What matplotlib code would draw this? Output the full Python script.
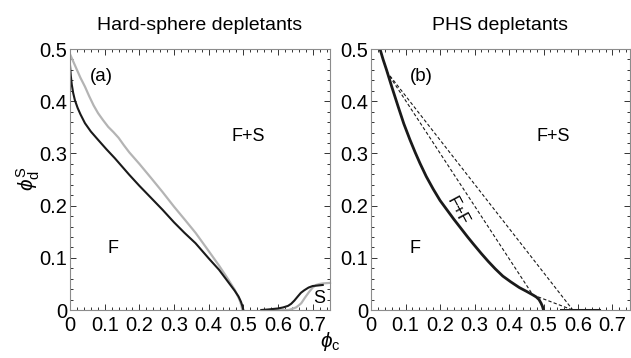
import numpy as np
import matplotlib
matplotlib.use("Agg")
import matplotlib.pyplot as plt
from matplotlib.ticker import MultipleLocator, FuncFormatter

plt.rcParams['font.family'] = ['Liberation Sans', 'DejaVu Sans']
plt.rcParams['mathtext.fontset'] = 'custom'
plt.rcParams['mathtext.rm'] = 'Liberation Sans'
plt.rcParams['mathtext.it'] = 'Liberation Sans:italic'

# (a) hard-sphere depletants
hs_black_x = [0, 0.002, 0.005, 0.009, 0.014, 0.022, 0.03, 0.043, 0.06, 0.081, 0.105,
              0.129, 0.15, 0.171, 0.2, 0.235, 0.267, 0.3, 0.33, 0.362, 0.4, 0.43,
              0.457, 0.475, 0.486, 0.493, 0.497, 0.5]
hs_black_y = [0.468, 0.45, 0.432, 0.416, 0.402, 0.387, 0.375, 0.358, 0.342, 0.326, 0.308,
              0.291, 0.275, 0.259, 0.238, 0.214, 0.192, 0.168, 0.148, 0.128, 0.099, 0.077,
              0.053, 0.037, 0.026, 0.016, 0.008, 0.0]
hs_gray_x = [0, 0.01, 0.02, 0.03, 0.043, 0.055, 0.068, 0.081, 0.095, 0.11, 0.125, 0.14,
             0.155, 0.171, 0.2, 0.235, 0.267, 0.3, 0.33, 0.362, 0.4, 0.43, 0.457, 0.475,
             0.488, 0.494, 0.497]
hs_gray_y = [0.49, 0.475, 0.46, 0.445, 0.428, 0.41, 0.392, 0.377, 0.364, 0.351, 0.341, 0.33,
             0.316, 0.302, 0.28, 0.252, 0.226, 0.198, 0.174, 0.148, 0.113, 0.085, 0.058, 0.039,
             0.021, 0.01, 0.0]
hs_solid_black_x = [0.552, 0.571, 0.6, 0.615, 0.629, 0.638, 0.647, 0.657, 0.666, 0.676,
                    0.688, 0.7, 0.715, 0.729]
hs_solid_black_y = [0.0, 0.001, 0.003, 0.005, 0.008, 0.012, 0.018, 0.026, 0.033, 0.038,
                    0.043, 0.046, 0.047, 0.048]
hs_solid_gray_x = [0.552, 0.6, 0.63, 0.64, 0.652, 0.66, 0.667, 0.678, 0.69, 0.7, 0.71,
                   0.72, 0.73, 0.75]
hs_solid_gray_y = [0.0, 0.0, 0.0, 0.002, 0.005, 0.009, 0.013, 0.024, 0.035, 0.043, 0.048,
                   0.05, 0.051, 0.052]

# (b) PHS depletants
phs_x = [0.026, 0.035, 0.045, 0.06, 0.079, 0.095, 0.113, 0.128, 0.142, 0.16, 0.18, 0.2,
         0.22, 0.24, 0.26, 0.28, 0.296, 0.32, 0.34, 0.36, 0.382, 0.405, 0.43, 0.45,
         0.469, 0.479, 0.487, 0.493, 0.497, 0.5]
phs_y = [0.5, 0.48, 0.46, 0.428, 0.389, 0.357, 0.326, 0.302, 0.281, 0.256, 0.232, 0.21,
         0.192, 0.174, 0.157, 0.14, 0.127, 0.108, 0.093, 0.079, 0.065, 0.054, 0.043, 0.036,
         0.029, 0.025, 0.02, 0.013, 0.007, 0.0]
phs_solid_x = [0.55, 0.66]
phs_solid_y = [0.0, 0.0]
# three-phase triangle vertices
tri_x = [0.045, 0.469, 0.585]
tri_y = [0.457, 0.029, 0.0]

fig = plt.figure(figsize=(6.31, 3.58), dpi=100)
ax1 = fig.add_axes([0.111, 0.134, 0.412, 0.729])
ax2 = fig.add_axes([0.588, 0.134, 0.410, 0.729])

fmt = FuncFormatter(lambda v, p: '0' if abs(v) < 1e-9 else f'{v:.1f}')
for ax in (ax1, ax2):
    ax.set_xlim(0, 0.75)
    ax.set_ylim(0, 0.5)
    ax.xaxis.set_major_locator(MultipleLocator(0.1))
    ax.xaxis.set_minor_locator(MultipleLocator(0.02))
    ax.yaxis.set_major_locator(MultipleLocator(0.1))
    ax.yaxis.set_minor_locator(MultipleLocator(0.02))
    ax.xaxis.set_major_formatter(fmt)
    ax.yaxis.set_major_formatter(fmt)
    ax.tick_params(which='both', direction='in', top=True, right=True,
                   color='0.2', width=0.7, labelsize=14.5)
    ax.tick_params(axis='x', pad=4)
    ax.tick_params(axis='y', pad=2)
    ax.tick_params(which='major', length=4)
    ax.tick_params(which='minor', length=2)
    for s in ax.spines.values():
        s.set_color('0.55')
        s.set_linewidth(0.8)

ax1.plot(hs_gray_x, hs_gray_y, color='#b4b4b4', lw=1.6)
ax1.plot(hs_black_x, hs_black_y, color='#1a1a1a', lw=1.5)
ax1.plot(hs_solid_gray_x, hs_solid_gray_y, color='#b4b4b4', lw=1.6, clip_on=False)
ax1.plot(hs_solid_black_x, hs_solid_black_y, color='#1a1a1a', lw=1.5)
ax1.set_title('Hard-sphere depletants', fontsize=14, pad=14)
ax1.text(0.09, 0.447, '(a)', fontsize=13.5, ha='center', va='center')
ax1.text(0.514, 0.332, 'F+S', fontsize=13, ha='center', va='center')
ax1.text(0.124, 0.118, 'F', fontsize=13, ha='center', va='center')
ax1.text(0.719, 0.022, 'S', fontsize=13, ha='center', va='center')

ax2.plot(phs_x, phs_y, color='#1a1a1a', lw=2.0)
ax2.plot(phs_solid_x, phs_solid_y, color='#1a1a1a', lw=2.2)
ax2.plot([tri_x[0], tri_x[1]], [tri_y[0], tri_y[1]], color='#1a1a1a', lw=0.8, ls=(0, (3, 2)))
ax2.plot([tri_x[0], tri_x[2]], [tri_y[0], tri_y[2]], color='#1a1a1a', lw=0.8, ls=(0, (3, 2)))
ax2.plot([tri_x[1], tri_x[2]], [tri_y[1], tri_y[2]], color='#1a1a1a', lw=0.8, ls=(0, (3, 2)))
ax2.set_title('PHS depletants', fontsize=14, pad=14)
ax2.text(0.146, 0.447, '(b)', fontsize=13.5, ha='center', va='center')
ax2.text(0.527, 0.332, 'F+S', fontsize=13, ha='center', va='center')
ax2.text(0.127, 0.118, 'F', fontsize=13, ha='center', va='center')
ax2.text(0.25, 0.19, 'F+F', fontsize=12, ha='center', va='center', rotation=-62)

fig.text(0.523, 0.045, r'$\phi_{\rm c}$', fontsize=15, ha='center', va='center')
fig.text(0.045, 0.5, r'$\phi_{\rm d}^{\rm S}$', fontsize=15, ha='center', va='center',
         rotation=90)

fig.savefig('out.png', dpi=100)
